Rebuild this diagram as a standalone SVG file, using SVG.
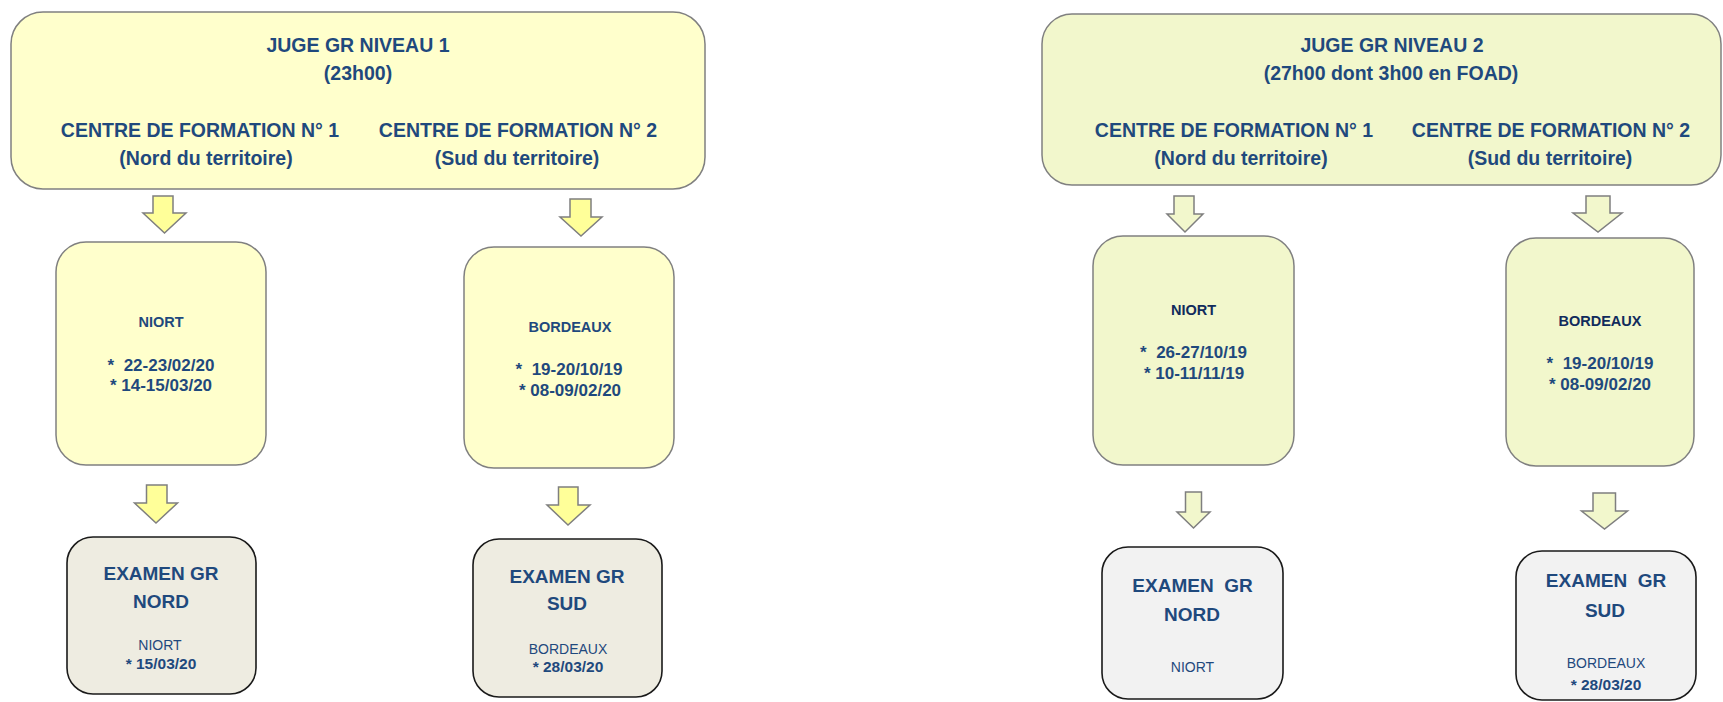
<svg xmlns="http://www.w3.org/2000/svg" width="1723" height="702" viewBox="0 0 1723 702" xml:space="preserve">
<style>
text{font-family:"Liberation Sans",Arial,sans-serif;fill:#1F497D;text-anchor:middle;white-space:pre}
.h{font-size:19.5px;font-weight:bold}
.n{font-size:14.5px;font-weight:bold}
.d{font-size:17px;font-weight:bold}
.e{font-size:19px;font-weight:bold}
.c{font-size:14px}
.ed{font-size:15.5px;font-weight:bold}
.y1{fill:#FFFFCC;stroke:#808080;stroke-width:1.5}
.y2{fill:#F2F7CC;stroke:#808080;stroke-width:1.5}
.b1{fill:#EEECE1;stroke:#1a1a1a;stroke-width:1.6}
.b2{fill:#F2F2F2;stroke:#1a1a1a;stroke-width:1.6}
.a1{fill:#FFFF99;stroke:#7f7f7f;stroke-width:1.5;stroke-linejoin:miter}
.a2{fill:#F2F7CC;stroke:#7f7f7f;stroke-width:1.5;stroke-linejoin:miter}
.dk{fill:#112B5C}
</style>
<rect width="1723" height="702" fill="#ffffff"/>
<g id="connectors">
<path class="a1" d="M153,196 H173 V213 H186 L164.5,233 L143,213 H153 Z"/>
<path class="a1" d="M570,199 H591 V217 H602 L581,236 L560,217 H570 Z"/>
<path class="a1" d="M146.5,485 H167 V503 H177.5 L156,523 L134.5,503 H146.5 Z"/>
<path class="a1" d="M558.5,487 H578 V505 H590 L568,525 L547,505 H558.5 Z"/>
<path class="a2" d="M1174,196 H1194 V214 H1203 L1185,232 L1167,214 H1174 Z"/>
<path class="a2" d="M1586,196 H1610 V213 H1622 L1598,232 L1573,213 H1586 Z"/>
<path class="a2" d="M1185.5,492 H1201.5 V512 H1210 L1193.5,528 L1177,512 H1185.5 Z"/>
<path class="a2" d="M1593,493 H1615.5 V511 H1627.5 L1604.5,529 L1581.5,511 H1593 Z"/>
</g>
<g id="niveau1">
<rect class="y1" x="11" y="12" width="694" height="177" rx="32"/>
<text class="h" x="358" y="52">JUGE GR NIVEAU 1</text>
<text class="h" x="358" y="80">(23h00)</text>
<text class="h" x="200" y="137">CENTRE DE FORMATION N° 1</text>
<text class="h" x="206" y="165">(Nord du territoire)</text>
<text class="h" x="518" y="137">CENTRE DE FORMATION N° 2</text>
<text class="h" x="517" y="165">(Sud du territoire)</text>
</g>
<g id="n1-niort">
<rect class="y1" x="56" y="242" width="210" height="223" rx="30"/>
<text class="n" x="161" y="327">NIORT</text>
<text class="d" x="161" y="371">*&#160;&#160;22-23/02/20</text>
<text class="d" x="161" y="391">* 14-15/03/20</text>
</g>
<g id="n1-bordeaux">
<rect class="y1" x="464" y="247" width="210" height="221" rx="30"/>
<text class="n" x="570" y="332">BORDEAUX</text>
<text class="d" x="569" y="375">*&#160;&#160;19-20/10/19</text>
<text class="d" x="570" y="396">* 08-09/02/20</text>
</g>
<g id="n1-examen-nord">
<rect class="b1" x="67" y="537" width="189" height="157" rx="26"/>
<text class="e" x="161" y="580">EXAMEN GR</text>
<text class="e" x="161" y="608">NORD</text>
<text class="c" x="160" y="650">NIORT</text>
<text class="ed" x="161" y="669">* 15/03/20</text>
</g>
<g id="n1-examen-sud">
<rect class="b1" x="473" y="539" width="189" height="158" rx="26"/>
<text class="e" x="567" y="583">EXAMEN GR</text>
<text class="e" x="567" y="610">SUD</text>
<text class="c" x="568" y="654">BORDEAUX</text>
<text class="ed" x="568" y="672">* 28/03/20</text>
</g>
<g id="niveau2">
<rect class="y2" x="1042" y="14" width="679" height="171" rx="30"/>
<text class="h" x="1392" y="52">JUGE GR NIVEAU 2</text>
<text class="h" x="1391" y="80">(27h00 dont 3h00 en FOAD)</text>
<text class="h" x="1234" y="137">CENTRE DE FORMATION N° 1</text>
<text class="h" x="1241" y="165">(Nord du territoire)</text>
<text class="h" x="1551" y="137">CENTRE DE FORMATION N° 2</text>
<text class="h" x="1550" y="165">(Sud du territoire)</text>
</g>
<g id="n2-niort">
<rect class="y2" x="1093" y="236" width="201" height="229" rx="30"/>
<text class="n dk" x="1193.5" y="315">NIORT</text>
<text class="d" x="1193.5" y="358">*&#160;&#160;26-27/10/19</text>
<text class="d" x="1194" y="379">* 10-11/11/19</text>
</g>
<g id="n2-bordeaux">
<rect class="y2" x="1506" y="238" width="188" height="228" rx="30"/>
<text class="n dk" x="1600" y="326">BORDEAUX</text>
<text class="d" x="1600" y="369">*&#160;&#160;19-20/10/19</text>
<text class="d" x="1600" y="390">* 08-09/02/20</text>
</g>
<g id="n2-examen-nord">
<rect class="b2" x="1102" y="547" width="181" height="152" rx="26"/>
<text class="e" x="1192.5" y="592">EXAMEN&#160;&#160;GR</text>
<text class="e" x="1192" y="621">NORD</text>
<text class="c" x="1192.5" y="672">NIORT</text>
</g>
<g id="n2-examen-sud">
<rect class="b2" x="1516" y="551" width="180" height="149" rx="26"/>
<text class="e" x="1606" y="587">EXAMEN&#160;&#160;GR</text>
<text class="e" x="1605" y="617">SUD</text>
<text class="c" x="1606" y="668">BORDEAUX</text>
<text class="ed" x="1606" y="690">* 28/03/20</text>
</g>
</svg>
